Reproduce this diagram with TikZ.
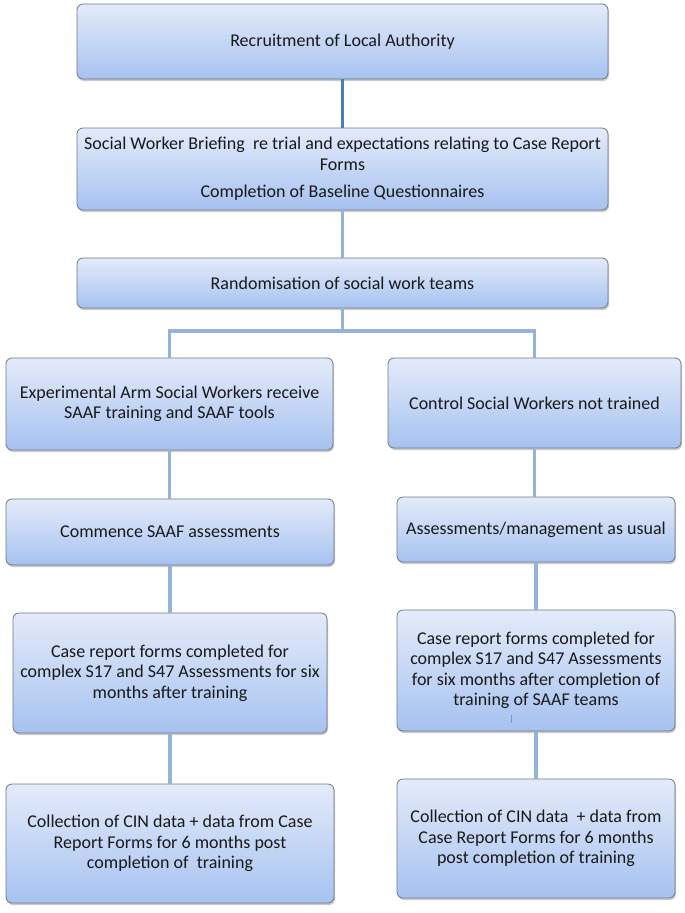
\documentclass[tikz,border=0pt]{standalone}
\usepackage{fontspec}
\setmainfont{Carlito}
\usetikzlibrary{shadows}
\definecolor{boxtop}{HTML}{E4EBFA}
\definecolor{boxbot}{HTML}{A6C2F0}
\definecolor{boxedge}{HTML}{6E7785}
\definecolor{linkdark}{HTML}{4A7EBB}
\definecolor{linklight}{HTML}{95B3D7}
\begin{document}
\begin{tikzpicture}[x=1pt,y=-1pt,
  flowbox/.style={draw=boxedge, line width=0.8pt, rounded corners=6pt,
    top color=boxtop, bottom color=boxbot, align=center, inner sep=0pt,
    font=\fontsize{18}{20.5}\selectfont, text=black!90,
    drop shadow={shadow xshift=1pt, shadow yshift=-2pt, opacity=0.35, fill=black!60}},
  link/.style={draw=linklight, line width=3.5pt},
  darklink/.style={draw=linkdark, line width=3.5pt}]
\useasboundingbox (0,0) rectangle (685,913);

% top column
\node[flowbox, minimum width=531pt, minimum height=75pt] (b1) at (342.5,41.5) {Recruitment of Local Authority};
\node[flowbox, minimum width=531pt, minimum height=82pt] (b2) at (342.5,169) {Social Worker Briefing~ re trial and expectations relating to Case Report\\Forms\\[7pt]Completion of Baseline Questionnaires};
\node[flowbox, minimum width=531pt, minimum height=50pt] (b3) at (342.5,283) {Randomisation of social work teams};

% left arm
\node[flowbox, minimum width=327pt, minimum height=92pt] (b4l) at (169.5,404) {Experimental Arm Social Workers receive\\SAAF training and SAAF tools};
\node[flowbox, minimum width=328pt, minimum height=66pt] (b5l) at (170,532) {Commence SAAF assessments};
\node[flowbox, minimum width=314pt, minimum height=120pt] (b6l) at (170,673) {Case report forms completed for\\complex S17 and S47 Assessments for six\\months after training};
\node[flowbox, minimum width=328pt, minimum height=119pt] (b7l) at (170,843.5) {Collection of CIN data + data from Case\\Report Forms for 6 months post\\completion of~ training};

% right arm
\node[flowbox, minimum width=293pt, minimum height=90pt] (b4r) at (534.5,403) {Control Social Workers not trained};
\node[flowbox, minimum width=278pt, minimum height=65pt] (b5r) at (536,529.5) {Assessments/management as usual};
\node[flowbox, minimum width=278pt, minimum height=121pt] (b6r) at (536,670.5) {Case report forms completed for\\complex S17 and S47 Assessments\\for six months after completion of\\training of SAAF teams};
\node[flowbox, minimum width=278pt, minimum height=119pt] (b7r) at (536,838.5) {Collection of CIN data~ + data from\\Case Report Forms for 6 months\\post completion of training};

% small stray mark in the right case-report box
\coordinate (mk) at (511,719);
\draw[linkdark!80, line width=0.8pt] ([yshift=4pt]mk) -- ([yshift=-4pt]mk);

% connectors
\draw[darklink] (b1.south) -- (b2.north);
\draw[link] (b2.south) -- (b3.north);
\coordinate (jc) at (342.5,331);
\coordinate (jl) at (169.5,331);
\coordinate (jr) at (534.5,331);
\draw[link] (b3.south) -- (jc);
\draw[link, line cap=rect] (jl) -- (jr);
\draw[link] (jl) -- (b4l.north);
\draw[link] (jr) -- (b4r.north);
\draw[link] (b4l.south) -- (b4l.south |- b5l.north);
\draw[link] (b5l.south) -- (b5l.south |- b6l.north);
\draw[link] (b6l.south) -- (b6l.south |- b7l.north);
\draw[link] (b4r.south) -- (b4r.south |- b5r.north);
\draw[link] (b5r.south) -- (b5r.south |- b6r.north);
\draw[link] (b6r.south) -- (b6r.south |- b7r.north);
\end{tikzpicture}
\end{document}
